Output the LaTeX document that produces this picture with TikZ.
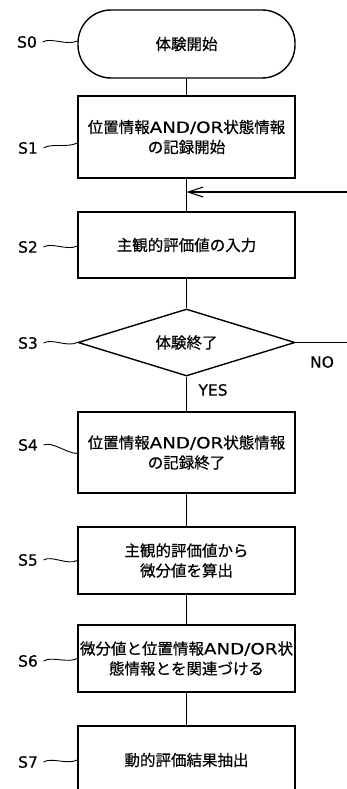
\documentclass[tikz,border=0pt]{standalone}
\usepackage{fontspec}
\usepackage{graphicx}
\setmainfont{Noto Sans CJK JP}[FakeBold=0.5,AutoFakeBold=0.5]
\newfontfamily\latf{DejaVu Sans}[FakeBold=0.4]
\usetikzlibrary{shapes.geometric,arrows.meta}
\newcommand\wl[1]{{\latf\scalebox{1.18}[1]{#1}}}
\begin{document}
\begin{tikzpicture}[x=1pt,y=-1pt, line width=1.4pt,
  box/.style={draw, minimum width=217pt, inner sep=0pt, align=center,
    font=\fontsize{15.5}{20}\selectfont},
  dia/.style={draw, diamond, aspect=3.24, minimum width=217pt, minimum height=67pt,
    inner sep=0pt, font=\fontsize{15.5}{20}\selectfont},
  lab/.style={font=\latf\fontsize{15.5}{18}\selectfont, inner sep=0pt},
  squig/.style={line width=0.9pt},
  barb/.style={-{Straight Barb[length=15pt,width=10pt,line width=1.1pt]}}]
\useasboundingbox (0,0) rectangle (347,789);

% boxes
\node[box, rounded corners=33pt, minimum height=68pt] (s0) at (186.5,44) {体験開始};
\node[box, minimum height=82pt] (s1) at (186.5,137) {位置情報\wl{AND/OR}状態情報\\の記録開始};
\node[box, minimum height=66pt] (s2) at (186.5,245) {主観的評価値の入力};
\node[dia] (s3) at (186.5,342.5) {体験終了};
\node[box, minimum height=81pt] (s4) at (186.5,452.5) {位置情報\wl{AND/OR}状態情報\\の記録終了};
\node[box, minimum height=67pt] (s5) at (186.5,560.5) {主観的評価値から\\微分値を算出};
\node[box, minimum height=67pt] (s6) at (186.5,658.5) {微分値と位置情報\wl{AND/OR}状\\態情報とを関連づける};
\node[box, minimum height=68pt] (s7) at (186.5,760) {動的評価結果抽出};

% step labels
\node[lab] (l0) at (27,42) {S0};
\node[lab] (l1) at (28,148) {S1};
\node[lab] (l2) at (28,247) {S2};
\node[lab] (l3) at (28,343) {S3};
\node[lab] (l4) at (28,445) {S4};
\node[lab] (l5) at (28,560) {S5};
\node[lab] (l6) at (28,661) {S6};
\node[lab] (l7) at (28,762) {S7};

% squiggles
\draw[squig] ([xshift=5pt]l0.east) .. controls +(8,-5) and +(-10,5) .. ([yshift=3pt]s0.west);
\draw[squig] ([xshift=5pt]l1.east) .. controls +(8,-5) and +(-10,5) .. ([yshift=-6pt]s1.west);
\draw[squig] ([xshift=5pt]l2.east) .. controls +(8,-5) and +(-10,5) .. ([yshift=-1pt]s2.west);
\draw[squig] ([xshift=5pt]l3.east) .. controls +(8,-5) and +(-10,5) .. (s3.west);
\draw[squig] ([xshift=5pt]l4.east) .. controls +(8,-4) and +(-10,0) .. ([yshift=-1pt]s4.west);
\draw[squig] ([xshift=5pt]l5.east) .. controls +(8,-5) and +(-10,5) .. (s5.west);
\draw[squig] ([xshift=5pt]l6.east) .. controls +(8,-5) and +(-10,5) .. ([yshift=0pt]s6.west);
\draw[squig] ([xshift=5pt]l7.east) .. controls +(8,-5) and +(-10,5) .. (s7.west);

% connectors
\draw (s0) -- (s1);
\draw (s1) -- (s2);
\draw (s2) -- (s3);
\draw (s3) -- (s4);
\draw (s4) -- (s5);
\draw (s5) -- (s6);
\draw (s6) -- (s7);

% loop back
\coordinate (j) at (186.5,192);
\coordinate (rt) at (348,192);
\coordinate (rn) at (348,342.5);
\draw[barb] (rt) -- (j);
\draw (s3.east) -- (rn);

\node[lab] (no) at (322,362) {NO};
\node[lab] (yes) at (213,390) {YES};
\end{tikzpicture}
\end{document}
